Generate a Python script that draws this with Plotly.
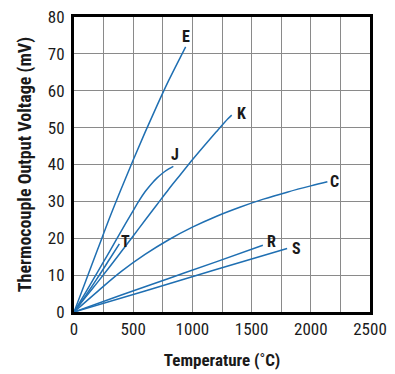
import plotly.graph_objects as go

# Thermocouple output (mV) vs temperature (°C)
E_temp = [0, 100, 200, 300, 400, 500, 600, 700, 800, 900, 943]
E_mv = [0, 8.5, 17.0, 25.5, 33.5, 41.2, 48.7, 55.9, 62.8, 69.2, 71.9]

J_temp = [0, 100, 200, 300, 400, 500, 550, 600, 650, 700, 750, 800, 839]
J_mv = [0, 5.4, 10.9, 16.4, 22.0, 27.5, 30.2, 32.6, 34.6, 36.3, 37.7, 38.8, 39.5]

K_temp = [0, 100, 200, 300, 400, 500, 600, 700, 800, 900, 1000, 1100, 1200, 1300, 1332]
K_mv = [0, 4.1, 8.1, 12.2, 16.4, 20.6, 24.9, 29.1, 33.3, 37.3, 41.3, 45.1, 48.8, 52.4, 53.4]

T_temp = [0, 100, 200, 300, 383]
T_mv = [0, 4.5, 9.3, 14.3, 18.5]

C_temp = [0, 200, 400, 600, 800, 1000, 1200, 1400, 1600, 1800, 2000, 2140]
C_mv = [0, 5.6, 11.0, 15.6, 19.6, 23.0, 25.9, 28.4, 30.6, 32.5, 34.2, 35.3]

R_temp = [0, 400, 800, 1200, 1595]
R_mv = [0, 4.6, 9.1, 13.6, 18.1]

S_temp = [0, 600, 1200, 1800]
S_mv = [0, 5.7, 11.5, 17.2]

x_ticks = [0, 500, 1000, 1500, 2000, 2500]
y_ticks = [0, 10, 20, 30, 40, 50, 60, 70, 80]

series = [
    ("E", E_temp, E_mv, (0, 10)),
    ("J", J_temp, J_mv, (2, 12)),
    ("K", K_temp, K_mv, (10, 2)),
    ("T", T_temp, T_mv, (6, 2)),
    ("C", C_temp, C_mv, (7, 0)),
    ("R", R_temp, R_mv, (9, 4)),
    ("S", S_temp, S_mv, (9, 0)),
]

LINE = "#1f6fb2"
FONT = "Liberation Sans Narrow, Roboto Condensed, Arial Narrow, Liberation Sans, sans-serif"

fig = go.Figure()
annotations = []
for name, xs, ys, (dx, dy) in series:
    fig.add_trace(go.Scatter(x=xs, y=ys, mode="lines", name=name,
                             line=dict(color=LINE, width=1.5, shape="spline", smoothing=1),
                             showlegend=False, hoverinfo="skip"))
    annotations.append(dict(x=xs[-1], y=ys[-1], text="<b>%s</b>" % name,
                            showarrow=False, xshift=dx, yshift=dy,
                            xanchor="center", yanchor="middle",
                            font=dict(family=FONT, size=16, color="#1a1a1a")))

fig.update_layout(
    width=395, height=374,
    margin=dict(l=74, r=25, t=17, b=62, autoexpand=False),
    paper_bgcolor="white", plot_bgcolor="white",
    annotations=annotations,
    font=dict(family=FONT, size=17, color="#1a1a1a"),
    hovermode=False,
    xaxis=dict(
        range=[0, 2500], tickvals=x_ticks, ticktext=[str(v) for v in x_ticks],
        showgrid=True, gridcolor="#8a8a8a", gridwidth=1,
        minor=dict(dtick=250, showgrid=True, gridcolor="#8a8a8a", gridwidth=1),
        showline=True, linecolor="black", linewidth=3, mirror=True,
        zeroline=False, ticks="", automargin=False, fixedrange=True,
        title=dict(text="<b>Temperature (˚C)</b>", font=dict(family=FONT, size=17), standoff=16),
    ),
    yaxis=dict(
        range=[0, 80], tickvals=y_ticks, ticktext=[str(v) for v in y_ticks],
        showgrid=True, gridcolor="#8a8a8a", gridwidth=1,
        showline=True, linecolor="black", linewidth=3, mirror=True,
        zeroline=False, ticks="outside", ticklen=3, tickcolor="rgba(0,0,0,0)", automargin=False,
        fixedrange=True,
        title=dict(text="<b>Thermocouple Output Voltage (mV)</b>", font=dict(family=FONT, size=18), standoff=12),
    ),
)

fig.write_html("out.html", config={"displayModeBar": False, "staticPlot": True},
               post_script="document.body.style.margin='0';")
